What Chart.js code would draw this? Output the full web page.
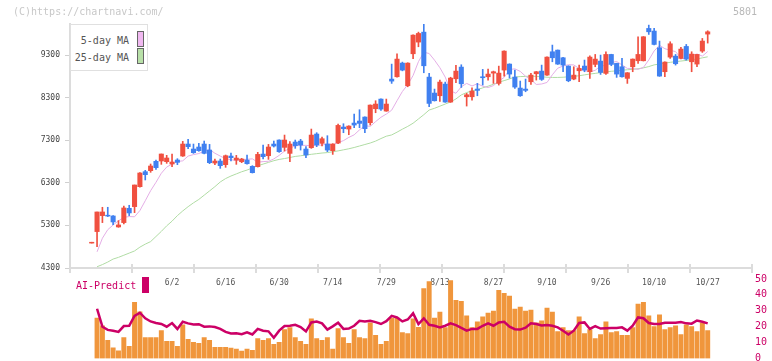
<!DOCTYPE html>
<html>
<head>
<meta charset="utf-8">
<script src="https://cdn.jsdelivr.net/npm/chart.js@4.4.1/dist/chart.umd.min.js"></script>
<style>
  body { margin: 0; background: #fff; }
  #wrap { position: relative; width: 772px; height: 361px; overflow: hidden; font-family: "DejaVu Sans Mono", monospace; }
  canvas { position: absolute; left: 0; }
  #priceChart { top: 0; }
  #aiChart { top: 270px; }
  .txt { position: absolute; white-space: nowrap; font-size: 10px; line-height: 10px; z-index: 3; }
  #copy { left: 13px; top: 7px; color: #c8c8c8; }
  #code { left: 733px; top: 7px; color: #b8b8b8; }
  #legend { position: absolute; left: 70px; top: 24px; width: 76px; height: 45px; border: 1px solid #e0e0e0; background: #fff; z-index: 3; }
  #legend .row { position: absolute; right: 18px; color: #555; font-size: 10px; line-height: 10px; }
  #legend .sw { position: absolute; left: 66px; width: 5px; height: 14px; border: 1px solid #666; }
  #aiLabel { left: 76px; top: 281px; color: #cc0066; }
  #aiBox { position: absolute; left: 142px; top: 277px; width: 7px; height: 16px; background: #cc0066; z-index: 3; }
</style>
</head>
<body>
<div id="wrap">
  <canvas id="priceChart" width="772" height="300"></canvas>
  <canvas id="aiChart" width="772" height="100"></canvas>
  <div class="txt" id="copy">(C)https://chartnavi.com/</div>
  <div class="txt" id="code">5801</div>
  <div id="legend">
    <div class="row" style="top:11px">5-day MA</div>
    <div class="row" style="top:28px">25-day MA</div>
    <div class="sw" style="top:6px;background:#f0b8f0"></div>
    <div class="sw" style="top:23px;background:#b8e0a8"></div>
  </div>
  <div class="txt" id="aiLabel">AI-Predict</div>
  <div id="aiBox"></div>
</div>
<script>
// trading days shown on the chart (2025)
const dates = [
  '5/12','5/13','5/14','5/15','5/16','5/19','5/20','5/21','5/22','5/23','5/26','5/27','5/28','5/29','5/30',
  '6/2','6/3','6/4','6/5','6/6','6/9','6/10','6/11','6/12','6/13','6/16','6/17','6/18','6/19','6/20',
  '6/23','6/24','6/25','6/26','6/27','6/30',
  '7/1','7/2','7/3','7/4','7/7','7/8','7/9','7/10','7/11','7/14','7/15','7/16','7/17','7/18',
  '7/22','7/23','7/24','7/25','7/28','7/29','7/30','7/31',
  '8/1','8/4','8/5','8/6','8/7','8/8','8/12','8/13','8/14','8/15','8/18','8/19','8/20','8/21',
  '8/22','8/25','8/26','8/27','8/28','8/29',
  '9/1','9/2','9/3','9/4','9/5','9/8','9/9','9/10','9/11','9/12','9/16','9/17','9/18','9/19',
  '9/22','9/24','9/25','9/26','9/29','9/30',
  '10/1','10/2','10/3','10/6','10/7','10/8','10/9','10/10','10/14','10/15','10/16','10/17',
  '10/20','10/21','10/22','10/23','10/24','10/27'
];
const labelIdx = [15, 25, 35, 45, 55, 65, 75, 85, 95, 105, 115];
const yTicks = [4300, 5300, 6300, 7300, 8300, 9300];

const openP = [4885,5155,5530,5540,5522,5264,5366,5702,5741,6210, 6562,6586,6805,6813,6797,6742,6836,6930,7211,7094,
  7141,7211,7070,6765,6812,6726,6929,6835,6796,6835, 6687,6679,6976,6937,7211,7305,7133,6992,7258,7281,
  7094,7125,7446,7227,7211,7055,7234,7610,7563,7704, 7751,7845,7712,8040,8267,7985,8736,8791,9112,8580,
  9331,9605,9839,8783,8408,8345,8619,8197,8744,9018, 8321,8321,8502,8791,8791,8877,8635,8948,9089,8784,
  8526,8502,8674,8862,8924,8830,9378,9417,9237,9042, 8737,8932,9042,8909,9081,9159,8870,9315,9105,9026,
  8753,9026,9167,9167,9926,9864,9472,8909,9253,9276, 9222,9503,9143,9089,9394,9793];
const highP = [4905,5616,5726,5726,5530,5413,5757,5773,6249,6540, 6594,6742,6836,6977,6946,6977,6867,7274,7321,7211,
  7227,7282,7203,6859,6859,6953,7000,6945,6875,6953, 6703,7016,7188,7203,7282,7310,7422,7266,7305,7321,
  7149,7563,7477,7375,7407,7220,7680,7688,7640,7915, 8017,7850,8130,8228,8270,8267,9088,9331,9135,9120,
  9775,9839,10027,8869,8502,8713,8666,8780,9058,9073, 8401,8533,8635,8964,8971,8924,9041,9400,9095,8948,
  8690,8737,8870,8915,9065,9260,9535,9420,9250,9050, 9026,9065,9183,9284,9315,9300,9378,9320,9110,9222,
  8890,9210,9730,9735,10004,9926,9629,9140,9613,9315, 9480,9550,9378,9320,9691,9871];
const lowP = [4885,4803,5366,5507,5319,5256,5335,5530,5600,6200, 6367,6547,6617,6734,6758,6680,6727,6920,7102,6992,
  7040,6980,6750,6726,6640,6664,6812,6734,6773,6740, 6530,6670,6859,6851,7141,7016,7047,6796,7110,7070,
  6890,7110,7149,7164,7031,6968,7220,7477,7430,7594, 7594,7477,7657,7946,8000,7980,8635,8780,8930,8556,
  9214,9495,8885,8087,8220,8212,8190,8190,8650,8540, 8103,8244,8345,8596,8713,8635,8596,8807,8760,8518,
  8330,8439,8612,8713,8705,8820,9143,9080,8909,8674, 8720,8674,8909,8753,9026,8846,8846,9050,8776,8780,
  8635,8909,9105,9160,9785,9540,8800,8792,9222,9065, 9210,9180,8909,9026,9363,9582];
const closeP = [4905,5616,5616,5520,5381,5311,5710,5593,6249,6531, 6492,6695,6656,6977,6883,6789,6781,7211,7149,7008,
  7055,6992,6773,6812,6703,6937,6890,6882,6859,6749, 6538,6968,6914,7141,7164,7031,7305,7211,7172,7188,
  6953,7422,7188,7336,7070,7211,7649,7571,7633,7657, 7696,7571,8126,8150,8032,8150,8689,9206,8947,9112,
  9769,9808,9049,8165,8228,8666,8197,8760,8924,8626, 8368,8455,8471,8768,8854,8909,8877,9394,8854,8549,
  8345,8471,8830,8909,8729,9253,9237,9089,9065,8697, 8830,8987,8948,9253,9206,8893,9315,9081,8854,8791,
  8885,9206,9315,9730,9847,9550,8807,9136,9566,9097, 9441,9206,9323,9315,9629,9847];

// moving averages as drawn
const ma5 = [null,4680,5000,5200,5310,5408,5489,5508,5503,5649, 5879,6115,6312,6525,6670,6741,6800,6817,6928,6963,
  6988,7041,7083,6995,6928,6867,6843,6823,6845,6854, 6863,6784,6799,6806,6862,6945,7044,7111,7170,7177,
  7181,7166,7189,7185,7217,7194,7245,7291,7367,7427, 7544,7641,7626,7737,7840,7915,8006,8229,8445,8605,
  8821,9145,9368,9337,9181,9004,8783,8461,8403,8555, 8635,8575,8627,8569,8538,8583,8691,8776,8960,8978,
  8917,8804,8723,8610,8621,8657,8838,8992,9043,9075, 9068,8984,8934,8905,8943,9045,9057,9123,9150,9070,
  8987,8985,8963,9010,9185,9397,9530,9450,9414,9381, 9231,9209,9289,9327,9276,9383];
const ma25 = [null,4330,4380,4440,4510,4550,4600,4650,4700,4790, 4860,4920,5040,5160,5290,5400,5530,5640,5740,5830,
  5910,6010,6110,6210,6320,6400,6460,6510,6560,6600, 6650,6700,6740,6780,6820,6850,6870,6895,6920,6935,
  6955,6970,6985,7000,7010,7030,7050,7075,7100,7130, 7165,7200,7235,7280,7340,7395,7425,7490,7560,7625,
  7700,7800,7900,8010,8050,8100,8150,8200,8270,8365, 8420,8460,8490,8530,8570,8615,8665,8700,8740,8785,
  8795,8800,8805,8800,8790,8780,8775,8775,8780,8790, 8800,8815,8835,8855,8870,8890,8905,8920,8930,8945,
  8955,8965,8980,9000,9030,9070,9090,9110,9130,9145, 9160,9175,9190,9210,9235,9260];

// lower panel
const scoreBars = [null,25.5,20.6,11.4,6.7,4.8,13.2,7.7,35.4,29.4, 13.2,13.2,13.2,17.5,10.8,10.8,7.7,21.2,12.0,10.2,
  9.5,13.2,11.4,7.1,7.1,7.1,6.5,5.9,4.6,5.9, 5.2,12.6,11.4,12.6,8.9,10.2,18.2,19.4,13.2,10.8,
  8.9,24.9,12.6,11.4,13.2,5.9,18.8,13.2,9.5,18.2, 13.2,12.6,22.5,14.5,8.9,10.8,25.5,25.5,16.3,15.7,
  24.9,19.6,44.0,48.3,25.5,29.2,19.4,49.0,36.6,36.0, 26.8,19.4,23.1,26.2,28.6,29.9,42.8,41.0,39.3,31.1,
  32.3,29.9,30.5,22.5,23.7,31.7,29.2,17.0,19.4,17.5, 17.5,26.2,15.7,18.2,12.6,15.1,23.1,16.3,16.9,14.5,
  14.5,19.4,34.2,35.4,26.8,20.0,27.4,18.2,19.4,20.6, 15.1,21.2,20.0,17.0,22.5,17.5];
const aiPredict = [null,31.3,20.0,18.0,17.5,16.7,20.4,20.6,26.8,28.8, 25.3,23.3,22.3,21.7,20.0,22.3,18.6,23.1,22.1,21.4,
  21.6,20.0,20.2,19.8,18.6,16.7,15.7,15.9,15.3,16.5, 15.1,18.6,17.5,17.1,13.0,17.5,20.4,20.6,21.2,19.8,
  17.0,22.7,23.3,22.1,18.2,20.2,22.5,18.6,18.8,20.6, 23.7,23.3,23.7,22.9,21.7,23.5,26.8,25.8,23.3,24.5,
  28.4,21.7,25.3,21.2,20.6,19.6,20.6,22.1,21.0,19.2, 17.5,18.6,18.6,20.6,22.1,20.6,22.7,23.1,20.0,18.4,
  18.2,19.4,22.1,21.7,20.8,21.0,20.6,19.6,17.5,15.1, 17.5,22.3,22.7,18.6,20.4,18.8,19.0,19.2,19.2,19.6,
  17.5,20.6,25.8,25.3,22.3,21.7,21.7,22.5,22.5,22.5, 22.9,22.1,21.9,23.9,23.1,22.1];

const upColor = '#f05040';
const downColor = '#4080f0';
const X_MIN = -4.05, X_MAX = 123.27;
const monoFont = { family: 'DejaVu Sans Mono', size: 8 };

const idx = dates.map((d, i) => i);
const candleColors = idx.map(i => closeP[i] >= openP[i] ? upColor : downColor);
const toPts = arr => arr.map((v, i) => ({ x: i, y: v })).filter(p => p.y !== null);

// short marks along the bottom axis line
const tickMarks = {
    id: 'tickMarks',
    afterDraw(chart) {
        const { ctx, chartArea: a } = chart;
        ctx.save();
        ctx.strokeStyle = '#dcdcdc';
        ctx.lineWidth = 2;
        for (let k = 0; k <= 11; k++) {
            const x = Math.round(a.left + k * (a.right - a.left) / 11);
            ctx.beginPath();
            ctx.moveTo(x, a.bottom - 4);
            ctx.lineTo(x, a.bottom + 5);
            ctx.stroke();
        }
        ctx.restore();
    }
};

new Chart(document.getElementById('priceChart'), {
    type: 'bar',
    data: {
        datasets: [
            {
                label: 'body',
                data: idx.map(i => ({ x: i, y: [openP[i], closeP[i]] })),
                backgroundColor: candleColors,
                barThickness: 4.4,
                grouped: false
            },
            {
                label: 'wick',
                data: idx.map(i => ({ x: i, y: [lowP[i], highP[i]] })),
                backgroundColor: candleColors,
                barThickness: 1,
                grouped: false
            },
            {
                type: 'line',
                label: '5-day MA',
                data: toPts(ma5),
                borderColor: '#e4aee6',
                borderWidth: 1,
                pointRadius: 0,
                tension: 0
            },
            {
                type: 'line',
                label: '25-day MA',
                data: toPts(ma25),
                borderColor: '#b0dca4',
                borderWidth: 1,
                pointRadius: 0,
                tension: 0
            }
        ]
    },
    options: {
        responsive: false,
        animation: false,
        devicePixelRatio: 1,
        layout: { padding: { left: 0, right: 20, top: 24, bottom: 0 } },
        plugins: { legend: { display: false }, tooltip: { enabled: false } },
        scales: {
            x: {
                type: 'linear',
                min: X_MIN,
                max: X_MAX,
                offset: false,
                afterBuildTicks: axis => { axis.ticks = labelIdx.map(v => ({ value: v })); },
                afterFit: s => { s.height = 32; },
                grid: { display: false, drawTicks: false, offset: false },
                border: { display: true, color: '#dcdcdc', width: 2 },
                ticks: {
                    callback: v => dates[v],
                    font: monoFont,
                    color: '#555',
                    padding: 10,
                    maxRotation: 0,
                    autoSkip: false
                }
            },
            y: {
                min: 4300,
                max: 10030,
                afterBuildTicks: axis => { axis.ticks = yTicks.map(v => ({ value: v })); },
                afterFit: s => { s.width = 70; },
                grid: { drawOnChartArea: false, tickLength: 5, color: '#d0d0d0', lineWidth: 1 },
                border: { color: '#dcdcdc', width: 2 },
                ticks: { callback: v => String(v), font: monoFont, color: '#444', padding: 5 }
            }
        }
    },
    plugins: [tickMarks]
});

new Chart(document.getElementById('aiChart'), {
    type: 'bar',
    data: {
        datasets: [
            {
                type: 'line',
                label: 'AI-Predict',
                data: toPts(aiPredict),
                borderColor: '#cc0066',
                borderWidth: 2.5,
                pointRadius: 0,
                tension: 0
            },
            {
                label: 'score',
                data: toPts(scoreBars),
                backgroundColor: '#f0963c',
                barThickness: 4.3,
                grouped: false
            }
        ]
    },
    options: {
        responsive: false,
        animation: false,
        devicePixelRatio: 1,
        // the canvas runs past the page bottom so the "0" label is cut like the original
        layout: { padding: { left: 70, right: 0, top: 7, bottom: 11.5 } },
        plugins: { legend: { display: false }, tooltip: { enabled: false } },
        scales: {
            x: { type: 'linear', min: X_MIN, max: X_MAX, offset: false, display: false },
            y: {
                position: 'right',
                min: 0,
                max: 50,
                afterFit: s => { s.width = 20; },
                grid: { display: false, drawTicks: false },
                border: { display: false },
                ticks: {
                    stepSize: 10,
                    callback: v => String(v),
                    font: { family: 'DejaVu Sans Mono', size: 10 },
                    color: '#cc0066',
                    padding: 3
                }
            }
        }
    }
});
</script>
</body>
</html>
